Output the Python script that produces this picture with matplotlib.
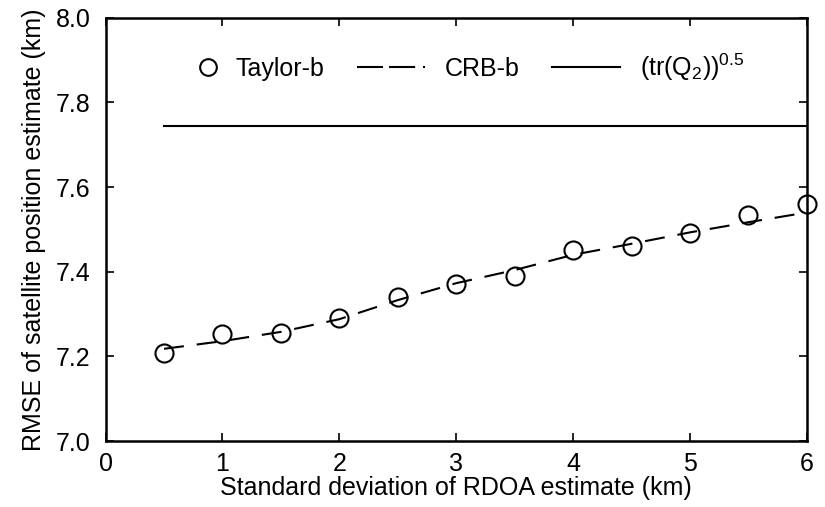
import matplotlib.pyplot as plt
from matplotlib.lines import Line2D
from matplotlib.legend_handler import HandlerLine2D

plt.rcParams['font.family'] = ['Liberation Sans', 'DejaVu Sans']
plt.rcParams['mathtext.fontset'] = 'custom'
plt.rcParams['mathtext.rm'] = 'Liberation Sans'
plt.rcParams['mathtext.it'] = 'Liberation Sans:italic'

sigma = [0.5, 1.0, 1.5, 2.0, 2.5, 3.0, 3.5, 4.0, 4.5, 5.0, 5.5, 6.0]
taylor_b = [7.207, 7.252, 7.256, 7.291, 7.340, 7.372, 7.391, 7.451, 7.461, 7.492, 7.535, 7.559]
crb_b = [7.218, 7.236, 7.258, 7.288, 7.333, 7.373, 7.404, 7.440, 7.466, 7.493, 7.517, 7.540]
tr_q2 = [7.745] * len(sigma)


class MarkerRight(HandlerLine2D):
    # put the single marker at the right end of the handle, next to the text
    def create_artists(self, legend, orig_handle, xdescent, ydescent,
                       width, height, fontsize, trans):
        arts = super().create_artists(legend, orig_handle, xdescent, ydescent,
                                      width, height, fontsize, trans)
        for a in arts:
            a.set_xdata([width - xdescent - 0.33 * fontsize])
        return arts


fig = plt.figure(figsize=(8.25, 5.07), dpi=100)
ax = fig.add_axes([0.128, 0.130, 0.850, 0.835])

ax.plot(sigma, tr_q2, color='black', lw=1.5)
ax.plot(sigma, crb_b, color='black', lw=1.5, dashes=(9.6, 6.2))
ax.plot(sigma, taylor_b, 'o', mfc='none', mec='black', ms=13, mew=1.5, clip_on=False)

ax.set_xlim(0, 6)
ax.set_ylim(7.0, 8.0)
ax.set_xticks(range(7))
ax.set_yticks([7.0, 7.2, 7.4, 7.6, 7.8, 8.0])
ax.set_yticklabels(['7.0', '7.2', '7.4', '7.6', '7.8', '8.0'])
ax.tick_params(direction='in', top=True, right=True, length=6, width=1.2, labelsize=18)
ax.tick_params(axis='x', pad=8)
ax.tick_params(axis='y', pad=11)
for s in ax.spines.values():
    s.set_linewidth(1.8)

ax.set_xlabel('Standard deviation of RDOA estimate (km)', fontsize=18, labelpad=0)
ax.set_ylabel('RMSE of satellite position estimate (km)', fontsize=18, labelpad=7)

circ = Line2D([], [], ls='none', marker='o', mfc='none', mec='black', ms=12, mew=1.5)
handles = [
    circ,
    Line2D([], [], color='black', lw=1.5, dashes=(12.5, 2.9, 12.5, 3.8, 1, 10)),
    Line2D([], [], color='black', lw=1.5),
]
labels = ['Taylor-b', 'CRB-b', r'(tr(Q$_2$))$^{0.5}$']
ax.legend(handles, labels, loc='center left', bbox_to_anchor=(0.061, 0.884), ncol=3,
          frameon=False, fontsize=18, handlelength=2.7, columnspacing=1.3,
          handletextpad=0.8, borderpad=0, borderaxespad=0,
          handler_map={circ: MarkerRight()})

fig.savefig('out.png', dpi=100)
